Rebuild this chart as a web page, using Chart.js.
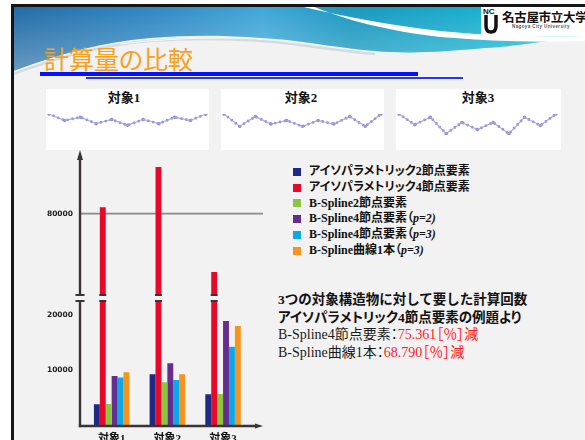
<!DOCTYPE html>
<html lang="ja">
<head>
<meta charset="utf-8">
<title>計算量の比較</title>
<script src="https://cdn.jsdelivr.net/npm/chart.js@4.4.1/dist/chart.umd.min.js"></script>
<style>
  html, body { margin:0; padding:0; width:585px; height:440px; overflow:hidden; background:#fff; }
  body { position:relative; font-family:"Liberation Serif","Noto Sans CJK JP",serif; }
  .abs { position:absolute; }
  #frame { left:11px; top:4px; width:600px; height:460px; background:#f2f2f2;
           border-left:3px solid #151515; border-top:3px solid #151515; }
  #hdr { left:0; top:0; }
  #title { left:44px; top:40px; font:25px "Noto Sans CJK JP",sans-serif; color:#f7a11c;
           white-space:nowrap; font-feature-settings:"palt"; }
  #rule1 { left:40px; top:72px; width:378px; height:4px; background:#0512ff; }
  #rule2 { left:86px; top:77px; width:377px; height:2px; background:#2535ff; }
  #logoText { left:502px; top:7px; font:bold 12.5px "Noto Sans CJK JP",sans-serif; color:#111; white-space:nowrap; letter-spacing:-0.3px; }
  #logoSub { left:512px; top:24px; font:bold 4.5px "Liberation Sans",sans-serif; color:#555; white-space:nowrap; letter-spacing:0.4px; }
  .panel { top:89px; height:61px; background:#fff; }
  .ptitle { top:87px; font-weight:bold; font-size:13px; color:#111; white-space:nowrap; transform:translateX(-50%); }
  #legend { left:293px; top:164px; font-weight:bold; font-size:12px; color:#111; font-feature-settings:"palt"; }
  #legend .row { height:15.8px; line-height:15.8px; white-space:nowrap; display:flex; align-items:center; }
  #legend .sw { width:8px; height:8px; margin-right:8px; flex:none; }
  #notes { left:278px; top:291px; font-size:13.5px; line-height:17.6px; color:#111; white-space:nowrap; }
  #notes .b { font-weight:bold; }
  #notes .p { font-feature-settings:"palt"; }
  #notes .m { color:#1a1a1a; font-size:14px; }
  #notes .red { color:#ff1a1a; }
</style>
</head>
<body>
<div id="frame" class="abs"></div>

<svg id="hdr" class="abs" width="585" height="100">
  <defs>
    <clipPath id="hdrClip"><rect x="14" y="7" width="571" height="93"/></clipPath>
    <linearGradient id="waveFill" x1="0" y1="0" x2="1" y2="0">
      <stop offset="0" stop-color="#1a64a0"/>
      <stop offset="0.25" stop-color="#2882c0"/>
      <stop offset="0.45" stop-color="#3aa4d6"/>
      <stop offset="0.6" stop-color="#1294bd"/>
      <stop offset="0.8" stop-color="#10aacb"/>
      <stop offset="1" stop-color="#12c6dc"/>
    </linearGradient>
    <linearGradient id="waveFade" x1="0" y1="0" x2="0" y2="1">
      <stop offset="0" stop-color="#ffffff" stop-opacity="0"/>
      <stop offset="1" stop-color="#ffffff" stop-opacity="0.35"/>
    </linearGradient>
  </defs>
  <g clip-path="url(#hdrClip)">
    <path d="M0,0 H585 V36 C550,40 520,46 485,48 C440,52 410,54 375,51 C330,47 300,40 262,38 C220,35 190,35 150,38 C100,42 55,55 0,76 Z" fill="url(#waveFill)"/>
    <path d="M0,0 H585 V36 C550,40 520,46 485,48 C440,52 410,54 375,51 C330,47 300,40 262,38 C220,35 190,35 150,38 C100,42 55,55 0,76 Z" fill="url(#waveFade)"/>
    <path d="M276,0 C320,12 380,24 440,31 C490,36 540,37 585,36 L585,41 C540,43 490,41 440,37 C380,30 330,16 300,0 Z" fill="#ffffff"/>
    <path d="M0,79 C55,58 100,45 150,41 C190,38 220,38 262,41 C300,44 330,50 375,54" stroke="#d6dadd" stroke-width="2.5" fill="none"/>
    <path d="M120,44 C170,38 220,37 262,39" stroke="#ffffff" stroke-width="1.2" fill="none" opacity="0.8"/>
  </g>
  <!-- university mark -->
  <rect x="481" y="7" width="104" height="29" fill="#fff"/>
  <text x="483" y="14" font-family="Liberation Sans" font-weight="bold" font-size="8" fill="#111">NC</text>
  <path d="M486,15 V26 Q486,32 491,32 Q496,32 496,26 V15" stroke="#111" stroke-width="3.5" fill="none"/>
</svg>

<div id="title" class="abs">計算量の比較</div>
<div id="rule1" class="abs"></div>
<div id="rule2" class="abs"></div>
<div id="logoText" class="abs">名古屋市立大学</div>
<div id="logoSub" class="abs">Nagoya City University</div>

<div class="abs panel" style="left:46px;width:163px"></div>
<div class="abs panel" style="left:221px;width:163px"></div>
<div class="abs panel" style="left:396px;width:165px"></div>
<div class="abs ptitle" style="left:124px">対象1</div>
<div class="abs ptitle" style="left:301px">対象2</div>
<div class="abs ptitle" style="left:478px">対象3</div>

<canvas id="shape1" class="abs" width="165" height="29" style="left:45px;top:110px"></canvas>
<canvas id="shape2" class="abs" width="165" height="29" style="left:220px;top:110px"></canvas>
<canvas id="shape3" class="abs" width="165" height="29" style="left:395px;top:110px"></canvas>

<canvas id="upper" class="abs" width="270" height="160" style="left:0;top:140px"></canvas>
<canvas id="lower" class="abs" width="270" height="160" style="left:0;top:290px"></canvas>

<div id="legend" class="abs"></div>
<div id="notes" class="abs">
  <div class="b">3つの対象構造物に対して要した計算回数</div>
  <div class="b p">アイソパラメトリック4節点要素の例題より</div>
  <div class="m p">B-Spline4節点要素：<span class="red">75.361［％］減</span></div>
  <div class="m p">B-Spline曲線1本：<span class="red">68.790［％］減</span></div>
</div>

<script>
// ---- structure outlines shown above the chart (node heights) ----
const shapeNodes = ['0', '1', '2', '3', '4', '5', '6', '7', '8', '9', '10'];
const shape1 = [0, -7.1, -3.5, -10.6, -6, -12.4, -6, -10.6, -3.5, -7.1, 0];
const shape2 = [0, -13.5, -2.8, -11, -7.1, -13.5, -7.1, -11, -2.8, -13.5, 0];
const shape3 = [0, -11.7, -3.5, -21.6, -9.2, -17, -9.2, -21.6, -3.5, -12.7, 0];

// ---- computation counts per object ----
const objects = ['対象1', '対象2', '対象3'];
const seriesNames = [
  'アイソパラメトリック2節点要素',
  'アイソパラメトリック4節点要素',
  'B-Spline2節点要素',
  'B-Spline4節点要素（p=2)',
  'B-Spline4節点要素（p=3)',
  'B-Spline曲線1本（p=3)'
];
const iso2    = [3750, 9200, 5570];
const iso4    = [81200, 88600, 69250];
const bs2     = [3800, 7750, 5630];
const bs4p2   = [8900, 11200, 18870];
const bs4p3   = [8600, 8150, 14210];
const bsCurve = [9550, 9200, 17960];
const seriesColors = ['#1f2a86', '#e8082a', '#8cc63f', '#662d91', '#0aa9e8', '#f7941d'];

// broken value axis: upper and lower ranges with their tick labels
const upperRange = [65000, 91000];
const lowerRange = [0, 22500];
const upperTicks = [80000];
const lowerTicks = [10000, 20000];

const seriesValues = [iso2, iso4, bs2, bs4p2, bs4p3, bsCurve];
const AXIS = '#3a3434';
const tickFont = { family: 'DejaVu Sans', size: 7.5, weight: 'bold' };
const labelFont = { family: '"Liberation Serif", "Noto Sans CJK JP", serif', size: 11, weight: 'bold' };

// legend
const legend = document.getElementById('legend');
seriesNames.forEach((name, i) => {
  const row = document.createElement('div');
  row.className = 'row';
  const sw = document.createElement('span');
  sw.className = 'sw';
  sw.style.background = seriesColors[i];
  const txt = document.createElement('span');
  const m = name.match(/^(.*（)(p=\d\))$/);
  if (m) { txt.textContent = m[1]; const it = document.createElement('i'); it.textContent = m[2]; txt.appendChild(it); }
  else txt.textContent = name;
  row.appendChild(sw); row.appendChild(txt);
  legend.appendChild(row);
});

function thumb(id, values) {
  new Chart(document.getElementById(id), {
    type: 'line',
    data: {
      labels: shapeNodes,
      datasets: [
        { data: values, borderColor: 'rgba(165,165,225,0.85)', borderWidth: 1.3, pointRadius: 0, tension: 0 },
        { data: values, borderColor: '#8c8cd4', borderWidth: 2.8, borderDash: [0, 5], borderCapStyle: 'round',
          pointRadius: 1.7, pointBackgroundColor: '#8c8cd4', pointBorderWidth: 0, tension: 0 }
      ]
    },
    options: {
      responsive: false, animation: false, events: [],
      layout: { padding: 3 },
      plugins: { legend: { display: false }, tooltip: { enabled: false } },
      scales: { x: { display: false }, y: { display: false, min: -23, max: 0 } }
    }
  });
}
thumb('shape1', shape1);
thumb('shape2', shape2);
thumb('shape3', shape3);

function datasets() {
  return seriesNames.map((name, i) => ({
    label: name,
    data: seriesValues[i],
    backgroundColor: seriesColors[i],
    borderWidth: 0,
    clip: 0,
    categoryPercentage: 0.637,
    barPercentage: 1
  }));
}

// axis lines, arrowheads, the break caps and the single grid line
const brokenAxis = {
  id: 'brokenAxis',
  beforeDatasetsDraw(chart, args, opts) {
    if (opts.part !== 'upper') return;
    const { ctx, chartArea: a, scales: { y } } = chart;
    ctx.save();
    ctx.strokeStyle = '#8a8a8a';
    ctx.lineWidth = 1.6;
    upperTicks.forEach(v => {
      const py = y.getPixelForValue(v);
      ctx.beginPath(); ctx.moveTo(a.left - opts.gap, py); ctx.lineTo(opts.lineEnd, py); ctx.stroke();
    });
    ctx.restore();
  },
  afterDatasetsDraw(chart, args, opts) {
    const { ctx, chartArea: a } = chart;
    const ax = a.left - opts.gap;
    const redBars = chart.getDatasetMeta(1).data;
    ctx.save();
    ctx.strokeStyle = AXIS; ctx.fillStyle = AXIS;
    const caps = (py) => {
      ctx.lineWidth = 2;
      ctx.beginPath(); ctx.moveTo(ax - 4.5, py); ctx.lineTo(ax + 4.5, py); ctx.stroke();
      redBars.forEach(b => {
        ctx.beginPath(); ctx.moveTo(b.x - b.width / 2 - 0.5, py); ctx.lineTo(b.x + b.width / 2 + 0.5, py); ctx.stroke();
      });
    };
    ctx.lineWidth = 2.4;
    if (opts.part === 'upper') {
      ctx.beginPath(); ctx.moveTo(ax, a.bottom); ctx.lineTo(ax, a.top + 4); ctx.stroke();
      ctx.beginPath(); ctx.moveTo(ax, a.top - 4); ctx.lineTo(ax - 3, a.top + 6); ctx.lineTo(ax + 3, a.top + 6); ctx.closePath(); ctx.fill();
      caps(a.bottom);
    } else {
      const by = a.bottom + 1;
      ctx.beginPath(); ctx.moveTo(ax, a.top); ctx.lineTo(ax, by + 1.2); ctx.stroke();
      ctx.beginPath(); ctx.moveTo(ax - 1.2, by); ctx.lineTo(opts.lineEnd - 6, by); ctx.stroke();
      ctx.beginPath(); ctx.moveTo(opts.lineEnd, by); ctx.lineTo(opts.lineEnd - 8, by - 2.6); ctx.lineTo(opts.lineEnd - 8, by + 2.6); ctx.closePath(); ctx.fill();
      caps(a.top);
    }
    ctx.restore();
  }
};

function valueAxis(range, ticks) {
  return {
    min: range[0], max: range[1],
    grid: { display: false, drawTicks: false },
    border: { display: false },
    ticks: { font: tickFont, color: '#222', padding: 10.8, callback: v => String(v) },
    afterBuildTicks: s => { s.ticks = ticks.map(v => ({ value: v })); },
    afterFit: s => { s.width = 83.8; s.paddingTop = 0; s.paddingBottom = 0; }
  };
}

const common = {
  responsive: false, animation: false, events: [],
  plugins: { legend: { display: false }, tooltip: { enabled: false } }
};

new Chart(document.getElementById('upper'), {
  type: 'bar',
  data: { labels: objects, datasets: datasets() },
  options: Object.assign({}, common, {
    layout: { padding: { top: 14, bottom: 5, left: 0, right: 19.1 } },
    plugins: Object.assign({}, common.plugins, { brokenAxis: { part: 'upper', gap: 3.8, lineEnd: 263 } }),
    scales: {
      x: { display: false },
      y: valueAxis(upperRange, upperTicks)
    }
  }),
  plugins: [brokenAxis]
});

new Chart(document.getElementById('lower'), {
  type: 'bar',
  data: { labels: objects, datasets: datasets() },
  options: Object.assign({}, common, {
    layout: { padding: { top: 11, bottom: 5, left: 0, right: 19.1 } },
    plugins: Object.assign({}, common.plugins, { brokenAxis: { part: 'lower', gap: 3.8, lineEnd: 263 } }),
    scales: {
      x: {
        grid: { display: false, drawTicks: false },
        border: { display: false },
        ticks: { font: labelFont, color: '#111', padding: 7.5, maxRotation: 0, autoSkip: false },
        afterFit: s => { s.height = 20; }
      },
      y: valueAxis(lowerRange, lowerTicks)
    }
  }),
  plugins: [brokenAxis]
});
</script>
</body>
</html>
